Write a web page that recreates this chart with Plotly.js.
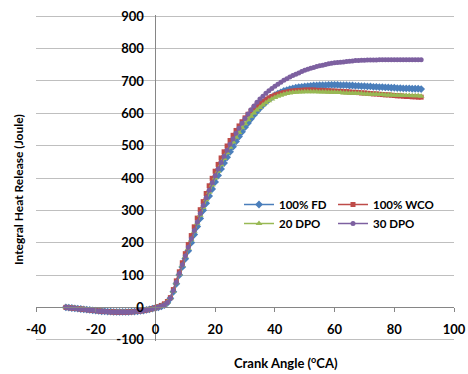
<!DOCTYPE html>
<html>
<head>
<meta charset="utf-8">
<script src="https://cdn.plot.ly/plotly-3.0.1.min.js"></script>
<style>html,body{margin:0;padding:0;background:#fff;}#chart{width:468px;height:374px;}</style>
</head>
<body>
<div id="chart"></div>
<script>
const crankAngle = [-30,-29,-28,-27,-26,-25,-24,-23,-22,-21,-20,-19,-18,-17,-16,-15,-14,-13,-12,-11,-10,-9,-8,-7,-6,-5,-4,-3,-2,-1,0,1,2,3,4,
5,6,7,8,9,10,11,12,13,14,15,16,17,18,19,20,21,22,23,24,25,26,27,28,29,30,31,32,33,34,35,36,37,38,39,40,41,42,43,44,45,46,47,48,49,50,
51,52,53,54,55,56,57,58,59,60,61,62,63,64,65,66,67,68,69,70,71,72,73,74,75,76,77,78,79,80,81,82,83,84,85,86,87,88,89];

const fd100 = [0,-1,-2,-3,-4,-5,-6,-7,-8,-9,-10,-11,-12,-12,-13,-13,-14,-14,-14,-14,-14,-14,-13,-13,-12,-11,-10,-8,-6,-4,-2,0,3,7,14,
28,48,73,100,125,150,175,200,225,250,275,300,
322,344,366,388,408,428,446,464,481,497,513,528,543,557,570,583,595,606,616,626,635,643,650,656,661,665,669,672,675,677,679,681,682,683,
684,685,686,686,687,687,687,688,688,688,688,687,687,687,686,686,685,685,684,684,683,683,682,682,681,681,680,680,679,679,678,678,677,677,677,676,676,676,675];

const wco100 = [0,-1,-2,-3,-4,-5,-6,-7,-8,-9,-10,-11,-12,-13,-13,-14,-14,-15,-15,-15,-15,-14,-14,-13,-12,-11,-10,-8,-6,-4,-1,2,6,11,18,
30,55,82,110,138,166,194,222,249,276,302,327,
352,376,399,421,442,462,481,499,516,532,547,561,574,586,597,607,616,624,631,637,643,648,652,656,659,662,664,666,668,669,670,671,671,672,
672,672,672,671,671,671,670,670,669,669,668,668,667,667,666,665,665,664,663,663,662,661,660,660,659,658,657,657,656,655,654,654,653,652,652,651,651,650,650];

const dpo20 = [0,-1,-2,-3,-4,-5,-6,-7,-8,-9,-10,-11,-12,-13,-14,-14,-15,-15,-15,-15,-15,-15,-14,-14,-13,-12,-10,-9,-7,-5,-2,1,4,9,16,
28,50,76,103,130,157,183,209,235,260,285,309,
333,356,378,400,421,441,460,478,495,511,526,541,555,568,580,591,601,610,618,626,633,639,644,649,653,656,659,661,663,664,665,666,666,667,
667,667,667,667,666,666,666,665,665,665,664,664,663,663,662,662,662,661,661,660,660,659,659,659,658,658,657,657,657,656,656,656,655,655,655,654,654,654,653];

const dpo30 = [0,-1,-2,-3,-4,-5,-6,-7,-8,-9,-10,-11,-12,-13,-13,-14,-14,-15,-15,-15,-15,-14,-14,-13,-12,-11,-10,-8,-6,-4,-2,1,4,8,15,
28,52,78,105,132,159,186,212,238,264,290,315,
339,362,385,407,428,448,467,486,504,521,538,554,569,584,598,611,623,634,644,653,662,670,677,684,690,696,702,707,712,717,721,725,729,733,
736,739,742,745,747,749,751,753,755,756,757,758,759,760,761,762,763,763,764,764,765,765,765,765,766,766,766,766,766,766,766,766,766,766,766,766,766,766,766];

const seriesNames = ['100% FD', '100% WCO', '20 DPO', '30 DPO'];
const yTickVals = [-100,0,100,200,300,400,500,600,700,800,900];
const xTickVals = [-40,-20,0,20,40,60,80,100];

const FONT = 'Lato, "Open Sans", "DejaVu Sans", sans-serif';
const colors = ['#4A7EBB', '#BE4B48', '#98B954', '#7D60A0'];
const symbols = ['diamond', 'square', 'triangle-up', 'circle'];
const sizes = [6, 5, 6, 5];
const seriesData = [fd100, wco100, dpo20, dpo30];
const legendIds = ['legend', 'legend2', 'legend3', 'legend4'];

const traces = seriesData.map((ys, i) => ({
  type: 'scatter',
  mode: 'lines+markers',
  x: crankAngle,
  y: ys,
  name: seriesNames[i],
  legend: legendIds[i],
  line: {color: colors[i], width: 1.5},
  marker: {symbol: symbols[i], size: sizes[i], color: colors[i], line: {width: 0}}
}));
// empty carrier so the crossing axes (x2 / y2) get drawn
traces.push({type: 'scatter', mode: 'markers', x: [], y: [], xaxis: 'x2', yaxis: 'y2',
             showlegend: false, hoverinfo: 'skip'});

const legendFont = {family: FONT, size: 11.5, color: '#000', weight: 'bold'};
function legendAt(xpx, ypx) {
  return {
    orientation: 'v', xref: 'paper', yref: 'paper',
    xanchor: 'left', yanchor: 'top',
    x: (xpx - 36) / 418, y: (341 - ypx) / 326,
    itemwidth: 30, bgcolor: 'rgba(0,0,0,0)', borderwidth: 0,
    font: legendFont
  };
}

const tickFont = {family: FONT, size: 13, color: '#000', weight: 'bold'};
const yRange = [-104, 904];

const layout = {
  width: 468, height: 374,
  margin: {l: 36, r: 14, t: 15, b: 33, pad: 0},
  paper_bgcolor: '#fff', plot_bgcolor: '#fff',
  showlegend: true,
  font: {family: FONT, size: 13, color: '#000'},
  xaxis: {
    range: [-40, 100], anchor: 'y',
    showgrid: false, zeroline: false, showline: false,
    showticklabels: false, ticks: '', fixedrange: true
  },
  yaxis: {
    range: yRange, anchor: 'x',
    tickvals: yTickVals,
    showgrid: true, gridcolor: '#BFBFBF', gridwidth: 1,
    zeroline: false, showline: false,
    showticklabels: false, ticks: '', fixedrange: true
  },
  xaxis2: {
    range: [-40, 100], overlaying: 'x',
    anchor: 'free', position: 104 / 1008,
    tickvals: xTickVals,
    ticktext: xTickVals.map(String),
    showgrid: false, zeroline: false,
    showline: true, linecolor: '#868686', linewidth: 1,
    ticks: 'outside', ticklen: 4, tickcolor: '#868686',
    ticklabelstandoff: 6,
    tickfont: tickFont, fixedrange: true
  },
  yaxis2: {
    range: yRange, overlaying: 'y',
    anchor: 'free', position: 40 / 140,
    tickvals: yTickVals,
    ticktext: yTickVals.map(String),
    showgrid: false, zeroline: false,
    showline: true, linecolor: '#868686', linewidth: 1,
    ticks: '', ticklabelstandoff: 9,
    tickfont: tickFont, fixedrange: true
  },
  legend: legendAt(239, 190),
  legend2: legendAt(333, 190),
  legend3: legendAt(239, 209),
  legend4: legendAt(333, 209),
  annotations: [
    {text: 'Crank Angle (<sup>o</sup>CA)', xref: 'paper', yref: 'paper',
     x: (286 - 36) / 418, y: (341 - 362) / 326, xanchor: 'center', yanchor: 'middle',
     showarrow: false, font: {family: FONT, size: 13, color: '#000', weight: 'bold'}},
    {text: 'Integral Heat Release (Joule)', xref: 'paper', yref: 'paper',
     x: (18 - 36) / 418, y: (341 - 190) / 326, xanchor: 'center', yanchor: 'middle',
     textangle: -90, showarrow: false, font: {family: FONT, size: 12, color: '#000', weight: 'bold'}}
  ]
};

Plotly.newPlot('chart', traces, layout, {displayModeBar: false, staticPlot: true});
</script>
</body>
</html>
